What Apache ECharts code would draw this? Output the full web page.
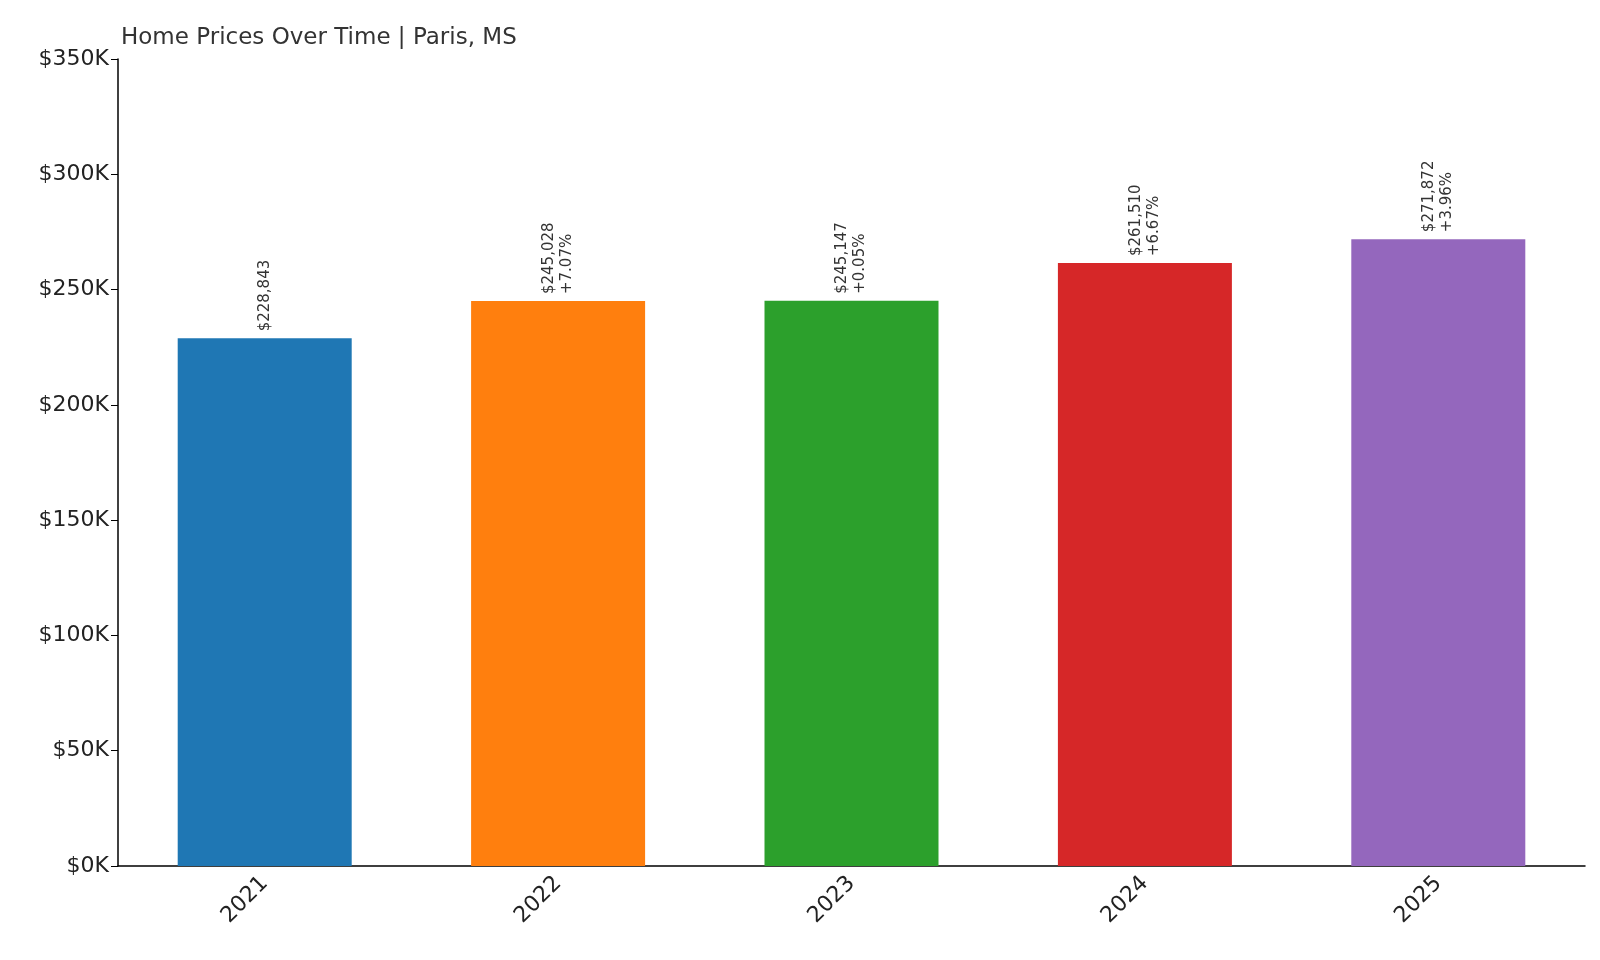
<!DOCTYPE html>
<html><head><meta charset="utf-8">
<script src="https://cdn.jsdelivr.net/npm/echarts@6/dist/echarts.min.js"></script>
<style>html,body{margin:0;padding:0;background:#fff}#c{width:1600px;height:960px}</style>
</head><body><div id="c"></div>
<script>
const years = ['2021','2022','2023','2024','2025'];
const prices = [228843, 245028, 245147, 261510, 271872];
const changes = [null, '+7.07%', '+0.05%', '+6.67%', '+3.96%'];
const colors = ['#1f77b4','#ff7f0e','#2ca02c','#d62728','#9467bd'];

const chart = echarts.init(document.getElementById('c'));
const font = 'DejaVu Sans';
chart.setOption({
  animation:false,
  title:{text:'Home Prices Over Time | Paris, MS',left:116,top:22,
    textStyle:{fontFamily:font,fontSize:23,fontWeight:'normal',color:'#333'}},
  grid:{left:118,right:15,top:59,bottom:94},
  xAxis:{type:'category',data:years,
    axisLine:{lineStyle:{color:'#000',width:1.5}},
    axisTick:{alignWithLabel:true,length:7,lineStyle:{color:'#000'}},
    axisLabel:{rotate:45,fontFamily:font,fontSize:22,color:'#222',margin:14}},
  yAxis:{type:'value',min:0,max:350000,interval:50000,
    splitLine:{show:false},
    axisLine:{show:true,lineStyle:{color:'#000',width:1.5}},
    axisTick:{show:true,length:7,lineStyle:{color:'#000'}},
    axisLabel:{fontFamily:font,fontSize:22,color:'#222',margin:9,
      formatter:v=>'$'+(v/1000)+'K'}},
  series:[{type:'bar',barWidth:174,
    data:prices.map((v,i)=>({value:v,itemStyle:{color:colors[i]}})),
    label:{show:true,position:'top',rotate:90,align:'left',verticalAlign:'middle',distance:7,
      fontFamily:font,fontSize:15,color:'#333',lineHeight:18,
      formatter:p=>{const s='$'+p.value.toLocaleString('en-US');const c=changes[p.dataIndex];return c?s+'\n'+c:s;}}
  }]
});
</script></body></html>
